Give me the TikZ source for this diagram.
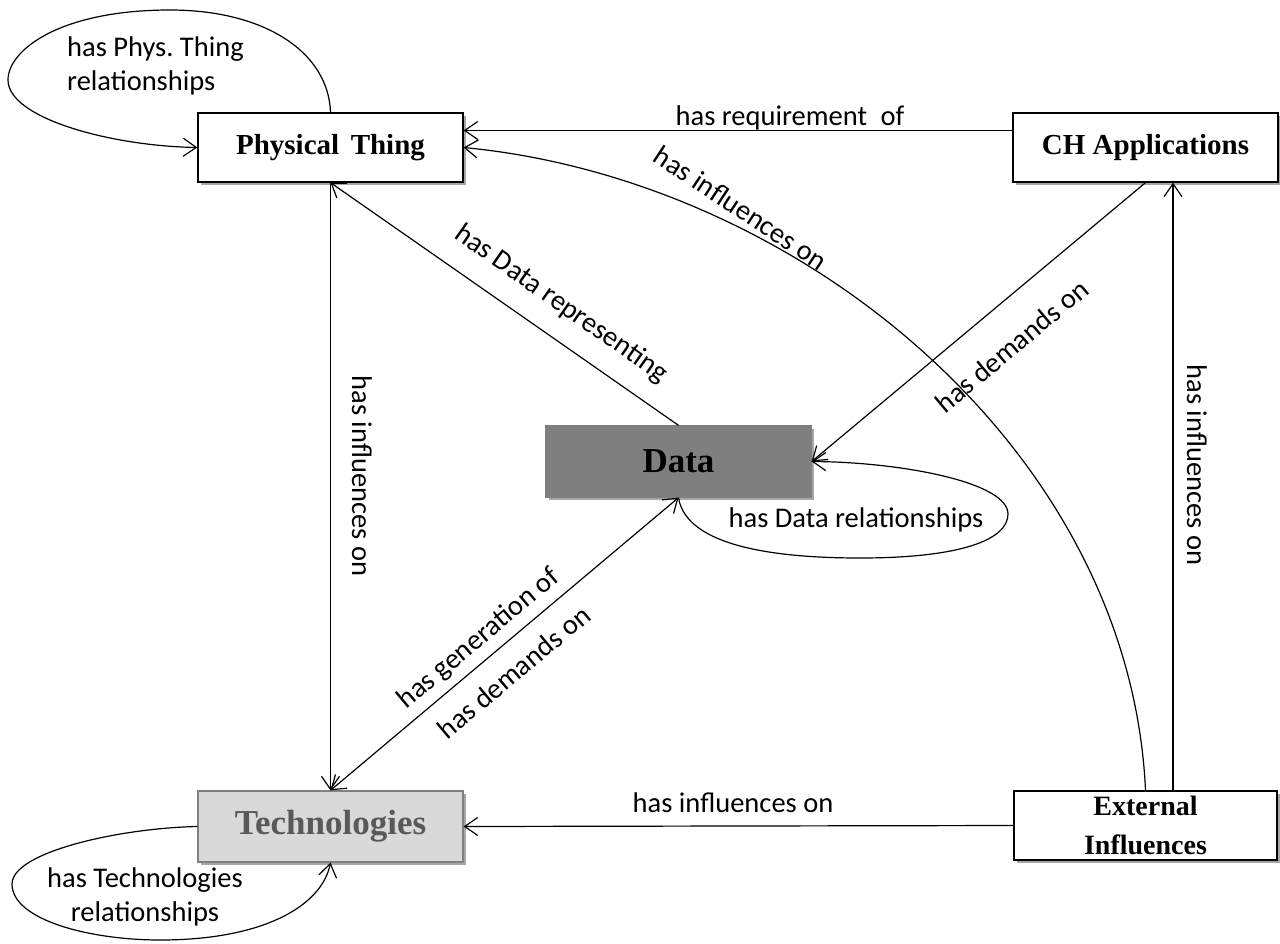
\documentclass[tikz,border=0pt]{standalone}
\usepackage{fontspec}
\setmainfont{Liberation Serif}
\newfontfamily\labfont{Carlito}
\usetikzlibrary{arrows.meta,shadows,calc}
\frenchspacing
\begin{document}
\begin{tikzpicture}[x=1pt,y=-1pt,
  box/.style={draw=black,line width=1.3pt,fill=white,inner sep=0pt,
    minimum width=265pt,minimum height=69pt,font=\bfseries\fontsize{29}{36}\selectfont,
    drop shadow={shadow xshift=3pt,shadow yshift=-3pt,fill=black,opacity=0.35}},
  conn/.style={line width=1.2pt,-{Straight Barb[length=13pt,width=18pt,line width=1.2pt]}},
  plain/.style={line width=1.2pt},
  lab/.style={font=\labfont\fontsize{28.5}{34}\selectfont,inner sep=0pt}]
\useasboundingbox (0,0) rectangle (1280,943);
% nodes
\node[box] (pt) at (330.5,147.5) {Physical\hspace{0.15em} Thing};
\node[box] (ch) at (1145.5,147.5) {CH Applications};
\node[box,fill={rgb,255:red,127;green,127;blue,127},draw={rgb,255:red,127;green,127;blue,127},
  minimum height=71pt,font=\bfseries\fontsize{35}{40}\selectfont] (data) at (678.5,461.5) {Data};
\node[box,fill={rgb,255:red,217;green,217;blue,217},draw={rgb,255:red,128;green,128;blue,128},
  minimum height=71pt,text={rgb,255:red,89;green,89;blue,89},
  font=\bfseries\fontsize{35}{40}\selectfont] (tech) at (330.5,826.5) {Technologies};
\node[box,minimum width=263pt,align=center,font=\bfseries\fontsize{28}{39}\selectfont] (ext) at (1145.5,825.5) {External\\Influences};
% connectors
\draw[conn] ([yshift=17pt]ch.west) -- ([yshift=17pt]pt.east);
\draw[conn] (ext.north) .. controls (1130,450) and (800,180) .. (pt.east);
\draw[conn] (pt.south) -- (tech.north);
\draw[conn] (data.north) -- (pt.south);
\draw[conn] (ch.south) -- (data.east);
\draw[conn] ([xshift=27.5pt]ext.north) -- ([xshift=27.5pt]ch.south);
\draw[conn] (ext.west) -- (tech.east);
\draw[line width=1.2pt,{Straight Barb[length=13pt,width=18pt,line width=1.2pt]}-{Straight Barb[length=13pt,width=18pt,line width=1.2pt]}] (tech.north) -- (data.south);
% self loops
\draw[conn] (pt.north) .. controls ($(pt.north)+(-2,-60)$) and (265,10) .. (170,10)
  .. controls (60,10) and (8,50) .. (8,80)
  .. controls (8,118) and (110,146) .. (pt.west);
\draw[conn] (tech.west) .. controls (120,828) and (12,852) .. (12,884)
  .. controls (12,920) and (90,940) .. (160,940)
  .. controls (265,940) and (322,905) .. (tech.south);
\draw[conn] (data.south) .. controls ($(data.south)+(8,50)$) and (780,558) .. (860,558)
  .. controls (960,558) and (1008,540) .. (1008,514)
  .. controls (1008,482) and (900,462) .. (data.east);
% labels
\node[lab] (l1) at (790,118) {has requirement\hspace{0.25em} of};
\node[lab] (l2) at (733,803) {has influences on};
\node[lab,rotate=-90] (l3) at (362,476) {has influences on};
\node[lab,rotate=-90] (l4) at (1197,465) {has influences on};
\node[lab,rotate=-35] (l5) at (561,304) {has Data representing};
\node[lab,rotate=-33.4] (l6) at (741,208) {has influences on};
\node[lab,rotate=40] (l7) at (1012,346) {has demands on};
\node[lab,rotate=40] (l8) at (479,639) {has generation of};
\node[lab,rotate=40] (l9) at (514,672) {has demands on};
\node[lab] (l10) at (856,520) {has Data relationships};
\node[lab,anchor=west,align=left] (l11) at (67,66) {has Phys. Thing\\relationships};
\node[lab,align=center] (l12) at (145,897) {has Technologies\\relationships};
\end{tikzpicture}
\end{document}
